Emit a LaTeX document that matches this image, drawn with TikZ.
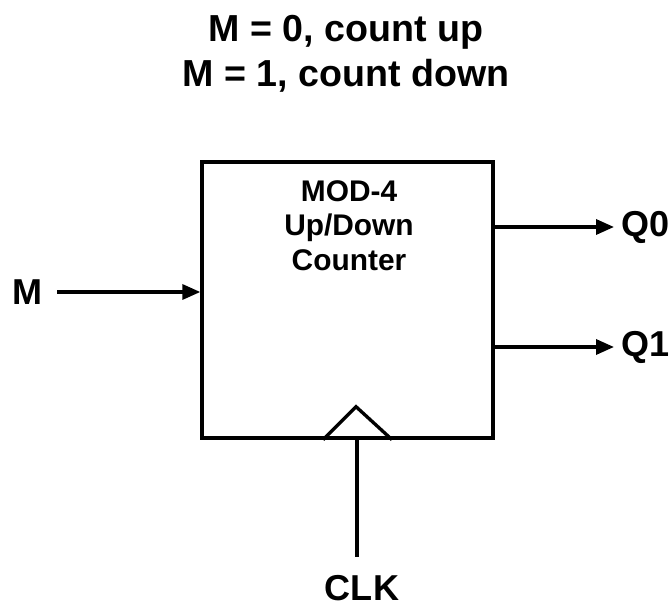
\documentclass[tikz,border=0pt]{standalone}
\usepackage{fontspec}
\setmainfont{Liberation Sans}
\usetikzlibrary{arrows.meta,positioning,calc}
\tikzstyle{lbl}=[font=\bfseries\fontsize{20.5}{25.5}\selectfont,
        inner sep=0mm, outer sep=0mm]
\tikzstyle{wire}=[line width=1.9pt, -{Triangle[length=3.6mm, width=3mm]}]

\begin{document}
\begin{tikzpicture}[x=0.2mm, y=-0.2mm]
        \useasboundingbox (0,0) rectangle (672,606);

        \node[lbl, align=center, anchor=north,
            font=\bfseries\fontsize{21.4}{26}\selectfont] (title) at (346,15)
            {M = 0, count up\\ M = 1, count down};

        \node[draw, line width=1.9pt, inner sep=0mm,
            minimum width=5.82cm, minimum height=5.52cm] (ctr) at (347.5,300) {};

        \node[align=center, anchor=north, inner sep=0mm,
            font=\bfseries\fontsize{17}{19.6}\selectfont] (name) at (349,180)
            {MOD-4\\ Up/Down\\ Counter};

        \node[lbl, anchor=east] (m) at (43,292) {M};
        \node[lbl, anchor=west] (q0) at (621,227) {Q0};
        \node[lbl, anchor=west] (q1) at (621,347) {Q1};
        \node[lbl, anchor=north] (clk) at (362,575) {CLK};

        % clock input
        \coordinate (ck) at ($(ctr.south)+(9.5,0)$);
        \draw[line width=1.9pt] ($(ck)+(-34,0)$) -- ($(ck)+(-1,-33)$)
            -- ($(ck)+(35,0)$);
        \draw[line width=1.9pt, shorten >=3.6mm] (ck) -- (ck |- clk.north);

        \draw[wire, shorten <=2.8mm] (m.east) -- (m.east -| ctr.west);
        \draw[wire, shorten >=1.4mm] (q0.west -| ctr.east) -- (q0.west);
        \draw[wire, shorten >=1.4mm] (q1.west -| ctr.east) -- (q1.west);

    \end{tikzpicture}
\end{document}
